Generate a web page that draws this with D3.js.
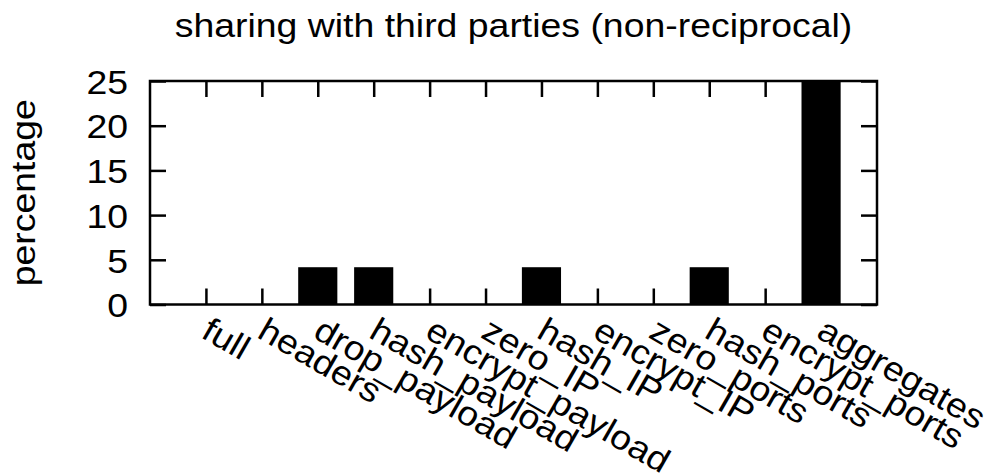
<!DOCTYPE html>
<html>
<head>
<meta charset="utf-8">
<script src="https://cdn.jsdelivr.net/npm/d3@7"></script>
<style>
  body { margin: 0; background: #fff; }
  text { font-family: "Liberation Sans", Arial, Helvetica, sans-serif; fill: #000; }
</style>
</head>
<body>
<svg id="chart" width="988" height="475"></svg>
<script>
// values (percent of responses)
const categories = ["full", "headers", "drop_payload", "hash_payload", "encrypt_payload",
  "zero_IP", "hash_IP", "encrypt_IP", "zero_ports", "hash_ports", "encrypt_ports", "aggregates"];
const percentages = [0, 0, 4.17, 4.17, 0, 0, 4.17, 0, 0, 4.17, 0, 25];
const yTickValues = [0, 5, 10, 15, 20, 25];
const chartTitle = "sharing with third parties (non-reciprocal)";
const yLabel = "percentage";

const width = 988, height = 475;
const margin = {top: 81, right: 111, bottom: 170.5, left: 150};
const fontSize = 34, stretch = 1.1;   // glyphs in the picture look a bit wide
const tickLen = 16, lineW = 2.5;

const svg = d3.select("#chart");
const plotW = width - margin.left - margin.right,
      plotH = height - margin.top - margin.bottom;

// x runs from -1 to 12 so there is one empty slot each side
const x = d3.scaleLinear().domain([-1, categories.length]).range([0, plotW]);
const y = d3.scaleLinear().domain([0, 25]).range([plotH, 0]);
const barW = x(0.7) - x(0);

const g = svg.append("g").attr("transform", `translate(${margin.left},${margin.top})`);

// bars
g.selectAll("rect.bar")
  .data(percentages)
  .enter().append("rect")
    .attr("class", "bar")
    .attr("x", (d, i) => x(i) - barW / 2)
    .attr("y", d => y(d))
    .attr("width", barW)
    .attr("height", d => plotH - y(d))
    .attr("fill", "#000");

// axes: ticks point inward, mirrored on top / right
const idx = d3.range(categories.length);
const styleAxis = sel => {
  sel.select(".domain").remove();
  sel.selectAll(".tick line").attr("stroke", "#000").attr("stroke-width", lineW);
};

const xBottom = g.append("g")
  .attr("transform", `translate(0,${plotH})`)
  .call(d3.axisBottom(x).tickValues(idx).tickSize(-tickLen).tickFormat(i => categories[i]))
  .call(styleAxis);

xBottom.selectAll(".tick text")
  .attr("x", null).attr("y", null).attr("dy", "0.33em")
  .attr("text-anchor", "start")
  .style("font-size", fontSize + "px")
  .attr("transform", `translate(-1,${327 - 304.5}) rotate(30) scale(${stretch},1)`);

g.append("g")
  .call(d3.axisTop(x).tickValues(idx).tickSize(-tickLen).tickFormat(""))
  .call(styleAxis);

const yLeft = g.append("g")
  .call(d3.axisLeft(y).tickValues(yTickValues).tickSize(-tickLen))
  .call(styleAxis);

yLeft.selectAll(".tick text")
  .attr("x", null).attr("dy", "0.36em")
  .attr("text-anchor", "end")
  .style("font-size", fontSize + "px")
  .attr("transform", `translate(-22,0) scale(${stretch},1)`);

g.append("g")
  .attr("transform", `translate(${plotW},0)`)
  .call(d3.axisRight(y).tickValues(yTickValues).tickSize(-tickLen).tickFormat(""))
  .call(styleAxis);

// frame
g.append("rect")
  .attr("width", plotW).attr("height", plotH)
  .attr("fill", "none").attr("stroke", "#000").attr("stroke-width", lineW);

// title
svg.append("text")
  .attr("text-anchor", "middle")
  .style("font-size", fontSize + "px")
  .attr("transform", `translate(${margin.left + plotW / 2},37) scale(${stretch},1)`)
  .text(chartTitle);

// y label
svg.append("text")
  .attr("text-anchor", "middle")
  .style("font-size", fontSize + "px")
  .attr("transform", `translate(35,${margin.top + plotH / 2}) rotate(-90) scale(${stretch},1)`)
  .text(yLabel);
</script>
</body>
</html>
